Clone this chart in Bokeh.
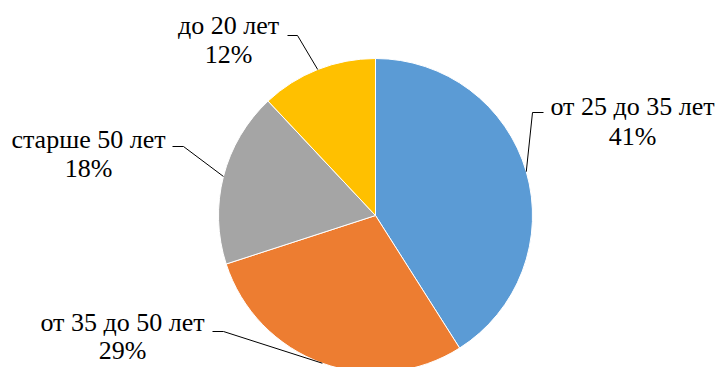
import numpy as np
from bokeh.plotting import figure
from bokeh.models import Range1d, ColumnDataSource
from bokeh.core.properties import value
from bokeh.embed import file_html
from bokeh.resources import INLINE

# ---- data ----
categories = ["от 25 до 35 лет", "от 35 до 50 лет", "старше 50 лет", "до 20 лет"]
shares = [41, 29, 18, 12]
colors = ["#5B9BD5", "#ED7D31", "#A5A5A5", "#FFC000"]

# ---- layout (pixel space, y measured from top) ----
W, H = 719, 367
CX, CY, R = 375, 215, 157
# label block centre x, first/second line centre y, elbow (x, y) and stub end x
label_cx = [632, 122, 88, 228]
line1_y = [106, 322, 139, 25]
line2_y = [136, 350, 168, 54]
elbow = [(532, 112), (223, 331), (183, 146), (297, 35)]
stub_end_x = [543, 212, 172, 287]
FONT = "Liberation Serif"
FSIZE = "26px"

vals = np.array(shares, dtype=float)
frac = vals / vals.sum()
cum = np.cumsum(frac)
prev = cum - frac
start_top = np.pi / 2 - 2 * np.pi * cum      # clockwise from 12 o'clock
end_top = np.pi / 2 - 2 * np.pi * prev
mid = np.pi / 2 - 2 * np.pi * (prev + frac / 2)

cy = H - CY
src = ColumnDataSource(dict(x=[CX] * len(vals), y=[cy] * len(vals),
                            s=start_top, e=end_top, c=colors))

p = figure(width=W, height=H, x_range=Range1d(0, W), y_range=Range1d(0, H),
           output_backend="svg", toolbar_location=None, min_border=0,
           outline_line_color=None, background_fill_color="white",
           border_fill_color="white")
p.axis.visible = False
p.xgrid.visible = False
p.ygrid.visible = False

p.wedge(x="x", y="y", radius=R, start_angle="s", end_angle="e",
        fill_color="c", line_color="white", line_width=1, source=src)

for i, cat in enumerate(categories):
    px = CX + R * np.cos(mid[i])
    py = cy + R * np.sin(mid[i])
    ex, ey = elbow[i]
    xs = [stub_end_x[i], ex, px]
    ys = [H - ey, H - ey, py]
    p.line(xs, ys, line_color="black", line_width=1)
    p.text([label_cx[i]], [H - line1_y[i]], text=[cat], text_align="center",
           text_baseline="middle", text_font=value(FONT),
           text_font_size=FSIZE, text_color="black")
    p.text([label_cx[i]], [H - line2_y[i]], text=[f"{shares[i]}%"],
           text_align="center", text_baseline="middle",
           text_font=value(FONT), text_font_size=FSIZE, text_color="black")

open("out.html", "w").write(file_html(p, INLINE))
